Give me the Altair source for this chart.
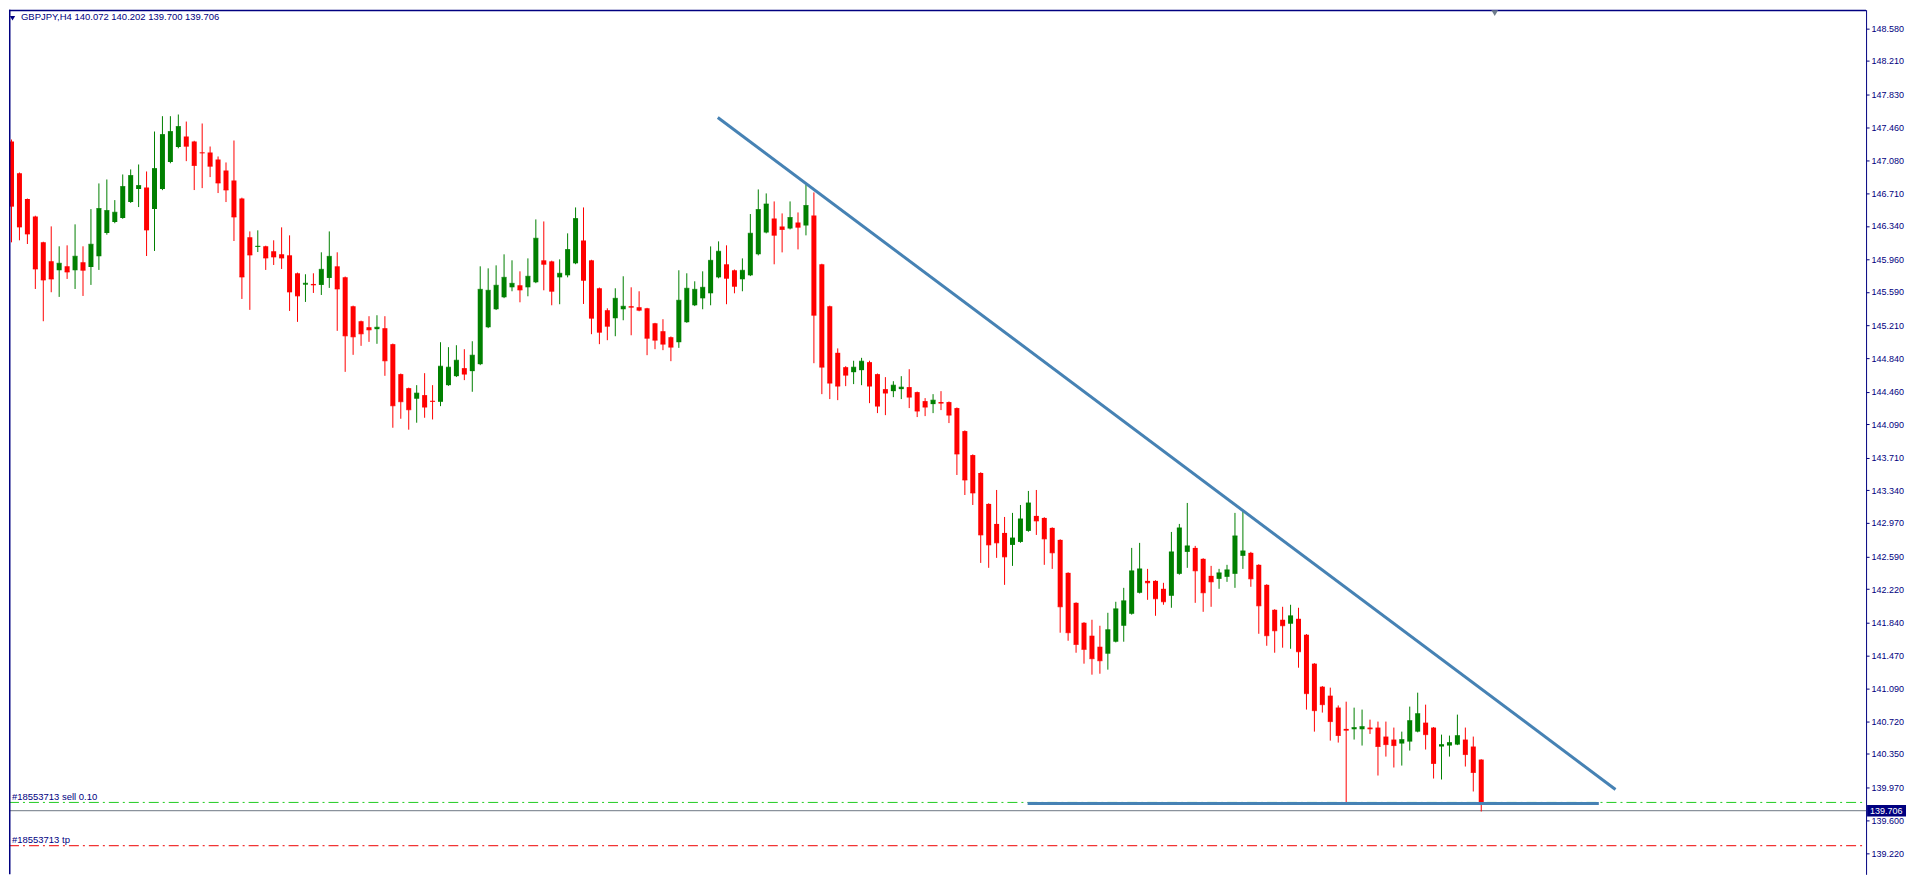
import altair as alt
import pandas as pd

# ---------------- data (GBPJPY H4) ----------------
opens = [147.297, 146.938, 146.644, 146.447, 146.153, 145.938, 145.836, 145.881, 145.836, 145.926,
         145.874, 145.994, 146.259, 146.383, 146.428, 146.610, 146.757, 146.776, 146.530, 146.757,
         147.063, 147.233, 147.353, 147.297, 147.172, 147.172, 147.093, 146.968, 146.855, 146.651,
         146.210, 146.100, 146.108, 146.051, 146.017, 146.006, 145.802, 145.673, 145.681, 145.670,
         145.749, 145.881, 145.757, 145.428, 145.258, 145.190, 145.168, 145.179, 144.998, 144.658,
         144.499, 144.379, 144.420, 144.356, 144.344, 144.533, 144.635, 144.726, 144.692, 144.771,
         145.190, 145.394, 145.530, 145.643, 145.666, 145.643, 145.700, 145.949, 145.937, 145.756,
         145.779, 145.915, 146.175, 145.949, 145.632, 145.383, 145.292, 145.394, 145.428, 145.417,
         145.405, 145.235, 145.145, 145.077, 145.020, 145.247, 145.439, 145.518, 145.575, 145.756,
         145.904, 145.836, 145.734, 145.779, 146.017, 146.266, 146.424, 146.334, 146.311, 146.379,
         146.345, 146.458, 145.904, 145.428, 144.900, 144.737, 144.680, 144.703, 144.794, 144.658,
         144.488, 144.465, 144.488, 144.511, 144.454, 144.352, 144.318, 144.341, 144.341, 144.273,
         144.012, 143.740, 143.537, 143.186, 142.959, 142.857, 142.721, 142.755, 142.880, 143.050,
         143.027, 142.914, 142.778, 142.404, 142.064, 141.838, 141.691, 141.566, 141.487, 141.623,
         141.804, 141.940, 142.178, 142.313, 142.313, 142.223, 142.144, 142.393, 142.642, 142.687,
         142.563, 142.370, 142.336, 142.359, 142.393, 142.597, 142.631, 142.495, 142.268, 141.985,
         141.872, 141.827, 141.883, 141.702, 141.374, 141.113, 141.011, 140.876, 140.634, 140.630,
         140.630, 140.649, 140.649, 140.547, 140.513, 140.468, 140.490, 140.603, 140.705, 140.649,
         140.434, 140.445, 140.456, 140.513, 140.434, 140.286]
highs = [147.319, 146.945, 146.650, 146.455, 146.160, 146.334, 146.108, 146.119, 146.357, 146.108,
         146.530, 146.821, 146.866, 146.632, 146.923, 146.980, 147.036, 146.957, 147.410, 147.584,
         147.584, 147.603, 147.523, 147.305, 147.501, 147.240, 147.127, 147.059, 147.308, 146.660,
         146.277, 146.289, 146.115, 146.176, 146.323, 146.232, 145.810, 145.791, 145.802, 146.040,
         146.277, 146.040, 145.765, 145.435, 145.265, 145.315, 145.326, 145.315, 145.005, 144.665,
         144.505, 144.533, 144.669, 144.533, 145.020, 144.964, 144.986, 144.941, 145.031, 145.881,
         145.858, 145.892, 146.017, 145.949, 145.824, 145.971, 146.413, 146.390, 145.945, 145.960,
         146.255, 146.549, 146.549, 145.955, 145.640, 145.405, 145.632, 145.768, 145.643, 145.598,
         145.410, 145.240, 145.281, 145.085, 145.836, 145.802, 145.711, 145.824, 146.107, 146.164,
         146.119, 145.845, 145.971, 146.474, 146.753, 146.708, 146.617, 146.481, 146.617, 146.492,
         146.810, 146.719, 145.910, 145.435, 144.950, 144.748, 144.810, 144.843, 144.810, 144.665,
         144.624, 144.578, 144.635, 144.714, 144.460, 144.386, 144.431, 144.465, 144.348, 144.280,
         144.020, 143.748, 143.545, 143.193, 143.344, 143.038, 143.084, 143.174, 143.333, 143.344,
         143.035, 142.920, 142.785, 142.410, 142.070, 141.845, 141.872, 141.804, 141.951, 142.076,
         142.234, 142.687, 142.744, 142.449, 142.320, 142.291, 142.868, 142.959, 143.197, 142.710,
         142.570, 142.483, 142.449, 142.495, 143.084, 143.106, 142.642, 142.502, 142.275, 141.992,
         142.019, 142.042, 142.008, 141.710, 141.380, 141.120, 141.102, 140.900, 140.943, 140.875,
         140.853, 140.739, 140.717, 140.717, 140.649, 140.603, 140.887, 141.045, 140.909, 140.655,
         140.569, 140.558, 140.796, 140.649, 140.547, 140.290]
lows = [146.153, 146.176, 146.134, 145.624, 145.258, 145.587, 145.534, 145.738, 145.624, 145.545,
        145.670, 145.840, 146.240, 146.370, 146.420, 146.600, 146.553, 145.998, 146.055, 146.745,
        147.050, 147.220, 147.074, 146.746, 146.768, 146.893, 146.712, 146.610, 146.168, 145.511,
        145.387, 146.043, 145.840, 145.896, 145.851, 145.375, 145.251, 145.477, 145.579, 145.556,
        145.636, 145.149, 144.684, 144.877, 144.979, 145.024, 145.002, 144.639, 144.050, 144.152,
        144.028, 144.107, 144.163, 144.144, 144.295, 144.525, 144.625, 144.590, 144.458, 144.760,
        145.180, 145.385, 145.520, 145.598, 145.473, 145.541, 145.690, 145.609, 145.439, 145.451,
        145.756, 145.905, 145.454, 145.111, 144.998, 145.043, 145.088, 145.269, 145.099, 145.371,
        144.873, 144.941, 144.930, 144.805, 144.956, 145.240, 145.430, 145.394, 145.439, 145.745,
        145.451, 145.575, 145.598, 145.770, 146.005, 146.255, 145.904, 146.039, 146.300, 146.073,
        146.232, 144.782, 144.431, 144.375, 144.363, 144.522, 144.545, 144.533, 144.329, 144.216,
        144.193, 144.397, 144.375, 144.273, 144.171, 144.182, 144.216, 144.250, 144.103, 143.514,
        143.287, 143.174, 142.517, 142.461, 142.574, 142.268, 142.483, 142.745, 142.870, 142.834,
        142.495, 142.449, 141.725, 141.634, 141.498, 141.374, 141.249, 141.260, 141.306, 141.615,
        141.623, 141.930, 142.170, 142.098, 141.917, 142.042, 142.008, 142.383, 142.461, 142.064,
        141.962, 142.019, 142.223, 142.302, 142.234, 142.449, 142.246, 141.713, 141.577, 141.498,
        141.555, 141.543, 141.328, 140.853, 140.603, 140.819, 140.501, 140.479, 139.799, 140.513,
        140.445, 140.577, 140.105, 140.320, 140.196, 140.218, 140.388, 140.595, 140.400, 140.071,
        140.060, 140.320, 140.450, 140.207, 139.924, 139.697]
closes = [146.561, 146.327, 146.247, 145.851, 145.726, 145.738, 145.915, 145.817, 145.994, 145.836,
          146.130, 146.538, 146.515, 146.493, 146.787, 146.912, 146.798, 146.293, 146.991, 147.376,
          147.410, 147.467, 147.244, 147.025, 147.165, 147.017, 146.825, 146.746, 146.440, 145.760,
          146.009, 146.108, 145.975, 145.987, 145.975, 145.590, 145.545, 145.689, 145.670, 145.847,
          145.994, 145.624, 145.092, 145.081, 145.115, 145.160, 145.190, 144.809, 144.299, 144.345,
          144.254, 144.443, 144.284, 144.348, 144.748, 144.737, 144.816, 144.658, 144.873, 145.620,
          145.609, 145.666, 145.756, 145.688, 145.613, 145.768, 146.198, 145.904, 145.598, 145.802,
          146.073, 146.424, 145.722, 145.292, 145.133, 145.201, 145.518, 145.428, 145.417, 145.383,
          145.065, 145.043, 144.998, 144.964, 145.496, 145.632, 145.620, 145.643, 145.949, 146.051,
          145.745, 145.654, 145.836, 146.255, 146.526, 146.587, 146.232, 146.300, 146.436, 146.323,
          146.572, 145.326, 144.737, 144.556, 144.522, 144.646, 144.737, 144.805, 144.522, 144.295,
          144.443, 144.533, 144.511, 144.397, 144.239, 144.284, 144.363, 144.329, 144.193, 143.752,
          143.457, 143.310, 142.834, 142.721, 142.744, 142.585, 142.800, 143.016, 143.197, 142.993,
          142.789, 142.631, 142.019, 141.725, 141.592, 141.536, 141.430, 141.407, 141.759, 141.996,
          142.087, 142.427, 142.449, 142.291, 142.110, 142.076, 142.642, 142.914, 142.710, 142.427,
          142.178, 142.302, 142.404, 142.438, 142.823, 142.653, 142.336, 142.030, 141.691, 141.747,
          141.804, 141.917, 141.509, 141.034, 140.841, 140.909, 140.717, 140.559, 140.619, 140.649,
          140.660, 140.634, 140.434, 140.456, 140.445, 140.513, 140.728, 140.807, 140.569, 140.241,
          140.456, 140.479, 140.558, 140.343, 140.139, 139.800]

axis_ticks = [148.580, 148.210, 147.830, 147.460, 147.080, 146.710, 146.340, 145.960, 145.590,
              145.210, 144.840, 144.460, 144.090, 143.710, 143.340, 142.970, 142.590, 142.220,
              141.840, 141.470, 141.090, 140.720, 140.350, 139.970, 139.600, 139.220]

header_text = "GBPJPY,H4  140.072 140.202 139.700 139.706"
sell_label = "#18553713 sell 0.10"
tp_label = "#18553713 tp"
sell_price = [139.800]
tp_price = [139.309]
bid_price = [139.706]
trend_idx = [88.9, 201.9]
trend_price = [147.569, 139.947]
support_idx = [127.9, 199.8]
support_price = [139.788, 139.788]
shift_marker_idx = [186.7]

# ---------------- layout ----------------
W, H = 1860, 866
PX_PER_BAR = 8.0
PX_PER_YEN = 88.3
X_MIN = 0.3125
Y_MAX = 148.792
xscale = alt.Scale(domain=[X_MIN, X_MIN + W / PX_PER_BAR], nice=False, zero=False)
yscale = alt.Scale(domain=[Y_MAX - H / PX_PER_YEN, Y_MAX], nice=False, zero=False)

NAVY = "#000080"
FONT = "Liberation Sans"

yaxis = alt.Axis(orient="right", values=axis_ticks, format=".3f", labelFont=FONT,
                 labelFontSize=9, labelColor=NAVY, tickColor=NAVY, domainColor=NAVY,
                 tickSize=3, labelPadding=2, grid=False, title="", labelOverlap=False,
                 labelFlush=False, domainWidth=1, tickWidth=1)


def Y(field):
    return alt.Y(field, type="quantitative", scale=yscale, axis=yaxis, title="")


def X(field):
    return alt.X(field, type="quantitative", scale=xscale, axis=None, title="")


candles = pd.DataFrame({"i": list(range(len(opens))), "o": opens, "h": highs,
                        "l": lows, "c": closes})
candles["dir"] = ["up" if c > o else "down" for o, c in zip(opens, closes)]
col = alt.Color("dir:N", scale=alt.Scale(domain=["up", "down"], range=["#008000", "#ff0000"]),
                legend=None)

one = lambda vals: pd.DataFrame({"p": vals})

bid_line = alt.Chart(one(bid_price)).mark_rule(color="#8a929c", strokeWidth=1.2).encode(
    y=Y("p"), x=alt.value(0), x2=alt.value(W))
sell_line = alt.Chart(one(sell_price)).mark_rule(
    color="#22cc22", strokeWidth=1, strokeDash=[10, 4, 2, 4]).encode(
    y=Y("p"), x=alt.value(0), x2=alt.value(W))
tp_line = alt.Chart(one(tp_price)).mark_rule(
    color="#ee0000", strokeWidth=1, strokeDash=[10, 4, 2, 4]).encode(
    y=Y("p"), x=alt.value(0), x2=alt.value(W))

base = alt.Chart(candles)
wicks = base.mark_rule(strokeWidth=1, clip=True).encode(x=X("i"), y=Y("l"), y2="h", color=col)
bodies = base.mark_bar(size=5, clip=True).encode(x=X("i"), y=Y("o"), y2="c", color=col)
doji = base.mark_tick(orient="horizontal", size=5, thickness=1, clip=True).encode(
    x=X("i"), y=Y("c"), color=col)

trend = alt.Chart(pd.DataFrame({"i": trend_idx, "p": trend_price})).mark_line(
    color="#4682b4", strokeWidth=3, clip=True).encode(x=X("i"), y=Y("p"))
support = alt.Chart(pd.DataFrame({"i": support_idx, "p": support_price})).mark_line(
    color="#4682b4", strokeWidth=3, clip=True).encode(x=X("i"), y=Y("p"))

top_border = alt.Chart(one([0])).mark_rule(color=NAVY, strokeWidth=1.5).encode(
    x=alt.value(0), x2=alt.value(W), y=alt.value(0.75))
left_border = alt.Chart(one([0])).mark_rule(color=NAVY, strokeWidth=1.5).encode(
    x=alt.value(0.75), y=alt.value(0), y2=alt.value(H))

header_tri = alt.Chart(one([0])).mark_point(shape="triangle-down", filled=True, size=28,
                                            color=NAVY, opacity=1).encode(
    x=alt.value(3.5), y=alt.value(8.5))
header = alt.Chart(pd.DataFrame({"t": [header_text]})).mark_text(
    align="left", baseline="alphabetic", font=FONT, fontSize=9.5, color=NAVY).encode(
    x=alt.value(12), y=alt.value(10.7), text="t:N")
shift_marker = alt.Chart(pd.DataFrame({"i": shift_marker_idx})).mark_point(
    shape="triangle-down", filled=True, size=45, color="#6f7d8c", opacity=1).encode(
    x=X("i"), y=alt.value(3.5))

sell_text = alt.Chart(pd.DataFrame({"p": sell_price, "t": [sell_label]})).mark_text(
    align="left", baseline="alphabetic", dy=-2.5, font=FONT, fontSize=9.5, color=NAVY).encode(
    x=alt.value(3), y=Y("p"), text="t:N")
tp_text = alt.Chart(pd.DataFrame({"p": tp_price, "t": [tp_label]})).mark_text(
    align="left", baseline="alphabetic", dy=-2.5, font=FONT, fontSize=9.5, color=NAVY).encode(
    x=alt.value(3), y=Y("p"), text="t:N")

bid_box = alt.Chart(one(bid_price)).mark_rule(color=NAVY, strokeWidth=11.5).encode(
    x=alt.value(W + 1), x2=alt.value(W + 40), y=Y("p"))
bid_text = alt.Chart(one(bid_price)).mark_text(
    align="left", baseline="middle", font=FONT, fontSize=9, color="white").encode(
    x=alt.value(W + 4), y=Y("p"), text=alt.Text("p:Q", format=".3f"))

chart = alt.layer(
    bid_line, sell_line, tp_line, wicks, bodies, doji, trend, support,
    top_border, left_border, header_tri, header, shift_marker, sell_text, tp_text,
    bid_box, bid_text,
).properties(
    width=W, height=H, background="white",
    padding={"left": 0, "top": 0, "right": 0, "bottom": 0},
).configure_view(stroke="transparent")

chart.save("out.html", embed_options={"renderer": "svg", "actions": False})
